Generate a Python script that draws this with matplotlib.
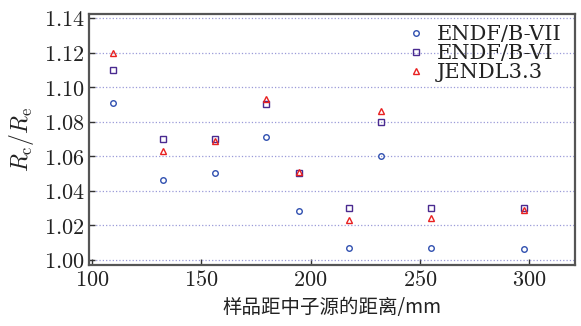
import numpy as np
import matplotlib
matplotlib.use("Agg")
import matplotlib.pyplot as plt

# ----------------------------------------------------
# Data
# ----------------------------------------------------

distance = [109.5, 132.5, 156.5, 179.5, 194.5, 217.5, 232, 255, 297.5]

endf_b7 = [1.091, 1.046, 1.050, 1.071, 1.028, 1.007, 1.060, 1.007, 1.006]
endf_b6 = [1.110, 1.070, 1.070, 1.090, 1.050, 1.030, 1.080, 1.030, 1.030]
jendl33 = [1.120, 1.063, 1.069, 1.093, 1.051, 1.023, 1.086, 1.024, 1.029]

y_ticks = [1.00, 1.02, 1.04, 1.06, 1.08, 1.10, 1.12, 1.14]
x_ticks = [100, 150, 200, 250, 300]

plt.rcParams["mathtext.fontset"] = "cm"
plt.rcParams["font.family"] = ["DejaVu Serif"]

# ----------------------------------------------------
# Plot
# ----------------------------------------------------

fig = plt.figure(figsize=(5.81, 3.26), dpi=100)
ax = fig.add_axes([0.153, 0.187, 0.837, 0.770])

ax.plot(distance, endf_b7, "o", ms=4, mfc="none", mec="#3050b0", mew=1.0,
        label="ENDF/B-VII")
ax.plot(distance, endf_b6, "s", ms=4, mfc="none", mec="#4a2a90", mew=1.0,
        label="ENDF/B-VI")
ax.plot(distance, jendl33, "^", ms=4.5, mfc="none", mec="#e82020", mew=1.0,
        label="JENDL3.3")

ax.set_xlim(98.6, 321)
ax.set_ylim(0.997, 1.1423)

ax.set_xticks(x_ticks)
ax.set_xticklabels([f"${v}$" for v in x_ticks], fontsize=16)
ax.set_yticks(y_ticks)
ax.set_yticklabels([f"${v:.2f}$" for v in y_ticks], fontsize=16)

ax.yaxis.grid(True, linestyle=":", color="#9a9ad8", linewidth=0.9)
ax.tick_params(direction="in", length=4, width=1, colors="#333333",
               labelcolor="#222222", pad=3)

for sp in ax.spines.values():
    sp.set_color("#555555")
    sp.set_linewidth(1.6)

ax.set_ylabel(r"$R_\mathrm{c}/R_\mathrm{e}$", fontsize=17, color="#222222",
              labelpad=6)
ax.set_xlabel("样品距中子源的距离/mm", fontsize=14, color="#222222",
              family=["Noto Sans CJK SC", "DejaVu Sans"], labelpad=4)

leg = ax.legend(loc="upper right", frameon=False,
                handletextpad=0.4, labelspacing=0.0, handlelength=1.2,
                bbox_to_anchor=(1.01, 1.03),
                prop={"family": "DejaVu Serif", "size": 15})
for t in leg.get_texts():
    t.set_color("#222222")

fig.savefig("out.png", dpi=100)
